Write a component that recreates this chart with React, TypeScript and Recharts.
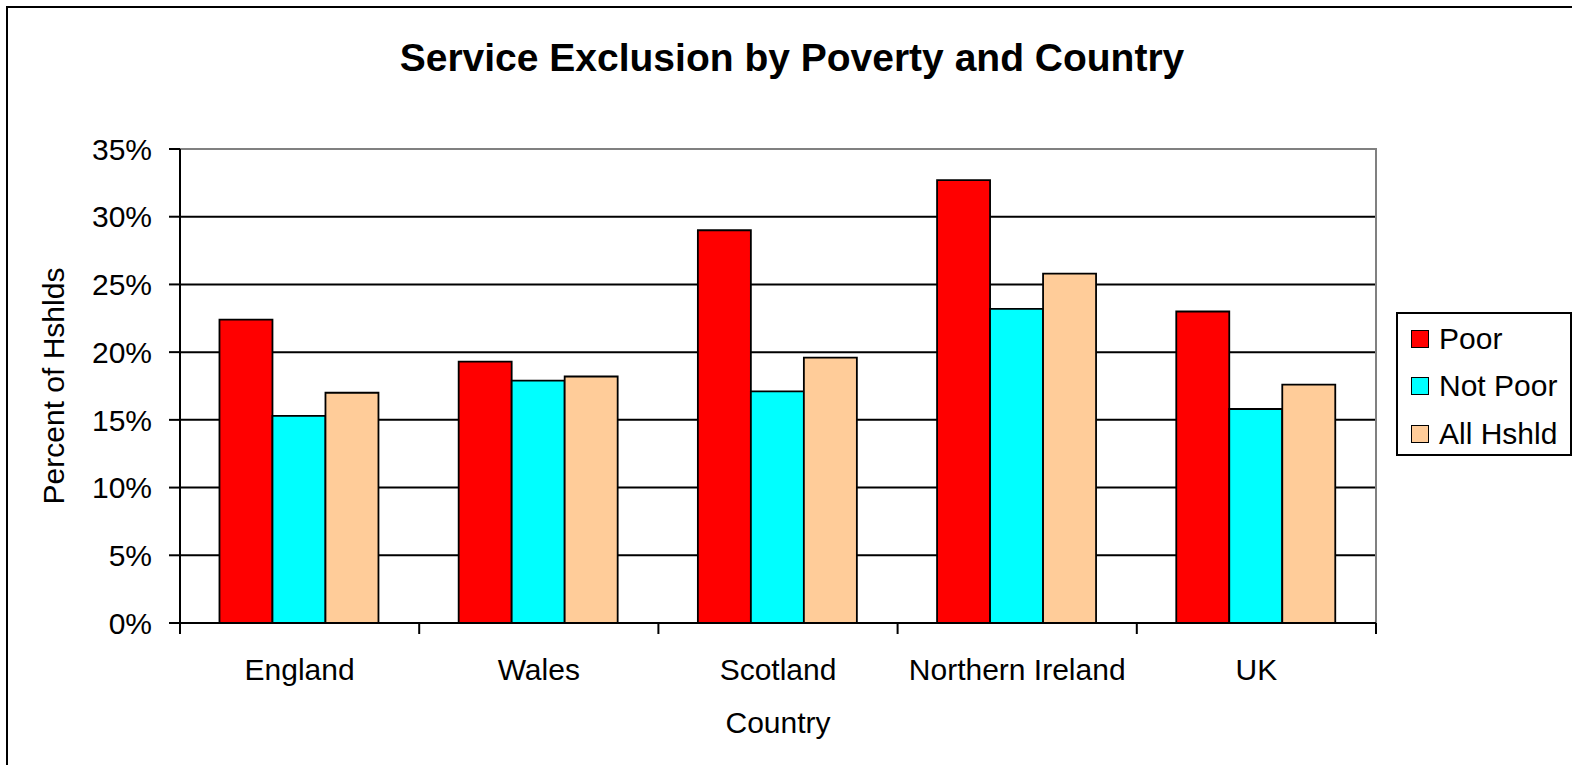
import React from 'react';
import { BarChart, Bar, XAxis, YAxis, CartesianGrid, ReferenceArea } from 'recharts';

const countries = ['England', 'Wales', 'Scotland', 'Northern Ireland', 'UK'];
const poor = [22.4, 19.3, 29.0, 32.7, 23.0];
const notPoor = [15.3, 17.9, 17.1, 23.2, 15.8];
const allHshld = [17.0, 18.2, 19.6, 25.8, 17.6];
const yTicks = [0, 5, 10, 15, 20, 25, 30, 35];

const series = [
  { key: 'poor', name: 'Poor', color: '#FF0000' },
  { key: 'notPoor', name: 'Not Poor', color: '#00FFFF' },
  { key: 'allHshld', name: 'All Hshld', color: '#FFCC99' },
];

const data = countries.map((c, i) => ({
  country: c,
  poor: poor[i],
  notPoor: notPoor[i],
  allHshld: allHshld[i],
}));

const FONT = '"Liberation Sans", Arial, sans-serif';
const AXIS_FS = 30;

function CountryTick(props: any) {
  const { x, y, payload, index, visibleTicksCount } = props;
  const half = payload && payload.offset ? payload.offset : 0;
  const isLast = index === visibleTicksCount - 1;
  return (
    <g>
      <line x1={x - half} x2={x - half} y1={y} y2={y + 11} stroke="#000" strokeWidth={2} />
      {isLast && <line x1={x + half} x2={x + half} y1={y} y2={y + 11} stroke="#000" strokeWidth={2} />}
      <text x={x} y={y + 36} dy="0.71em" textAnchor="middle" fill="#000" fontSize={AXIS_FS} fontFamily={FONT}>
        {payload.value}
      </text>
    </g>
  );
}

export default function App() {
  return (
    <div style={{ position: 'absolute', left: 0, top: 0, width: 1572, height: 765, fontFamily: FONT, overflow: 'hidden' }}>
      <div
        style={{
          position: 'absolute',
          left: 6,
          top: 6,
          width: 1580,
          height: 780,
          borderTop: '2px solid #000',
          borderLeft: '2px solid #000',
          boxSizing: 'border-box',
        }}
      />
      <div
        style={{
          position: 'absolute',
          left: 0,
          width: 1584,
          top: 34,
          textAlign: 'center',
          fontWeight: 'bold',
          fontSize: 39,
          lineHeight: '48px',
          color: '#000',
        }}
      >
        Service Exclusion by Poverty and Country
      </div>
      <div style={{ position: 'absolute', left: 0, top: 0 }}>
        <BarChart
          width={1572}
          height={765}
          data={data}
          margin={{ top: 149, right: 196, bottom: 82, left: 80 }}
          barCategoryGap="16.5%"
          barGap={0}
        >
          <CartesianGrid vertical={false} stroke="#000" strokeWidth={2} strokeOpacity={1} />
          <XAxis
            dataKey="country"
            height={60}
            axisLine={{ stroke: '#000', strokeWidth: 2 }}
            tickLine={false}
            tickSize={0}
            tickMargin={0}
            tick={<CountryTick />}
            interval={0}
            label={{ value: 'Country', position: 'insideBottom', offset: -50, fill: '#000', fontSize: AXIS_FS, fontFamily: FONT }}
          />
          <YAxis
            domain={[0, 35]}
            ticks={yTicks}
            width={100}
            tickSize={11}
            tickMargin={17}
            tickFormatter={(v: number) => `${v}%`}
            tick={{ fill: '#000', fontSize: AXIS_FS, fontFamily: FONT }}
            axisLine={{ stroke: '#000', strokeWidth: 2 }}
            tickLine={{ stroke: '#000', strokeWidth: 2 }}
            label={{
              value: 'Percent of Hshlds',
              angle: -90,
              position: 'insideLeft',
              offset: -27,
              style: { textAnchor: 'middle' },
              fill: '#000',
              fontSize: AXIS_FS,
              fontFamily: FONT,
            }}
          />
          {series.map((s) => (
            <Bar
              key={s.key}
              dataKey={s.key}
              name={s.name}
              fill={s.color}
              stroke="#000"
              strokeWidth={1.8}
              isAnimationActive={false}
            />
          ))}
          <ReferenceArea
            x1="England"
            x2="UK"
            y1={0}
            y2={35}
            fill="none"
            fillOpacity={0}
            stroke="#808080"
            strokeWidth={2}
            strokeDasharray="1670 1670"
            ifOverflow="visible"
          />
        </BarChart>
      </div>
      <div
        style={{
          position: 'absolute',
          left: 1396,
          top: 312,
          width: 176,
          height: 144,
          border: '2px solid #000',
          boxSizing: 'border-box',
          background: '#fff',
          paddingTop: 1,
          paddingLeft: 13,
        }}
      >
        {series.map((s) => (
          <div key={s.key} style={{ display: 'flex', alignItems: 'center', height: 47.5, fontSize: AXIS_FS, color: '#000', whiteSpace: 'nowrap' }}>
            <span
              style={{
                display: 'inline-block',
                width: 18,
                height: 18,
                background: s.color,
                border: '1.5px solid #000',
                boxSizing: 'border-box',
                marginRight: 10,
                flexShrink: 0,
              }}
            />
            <span>{s.name}</span>
          </div>
        ))}
      </div>
    </div>
  );
}
